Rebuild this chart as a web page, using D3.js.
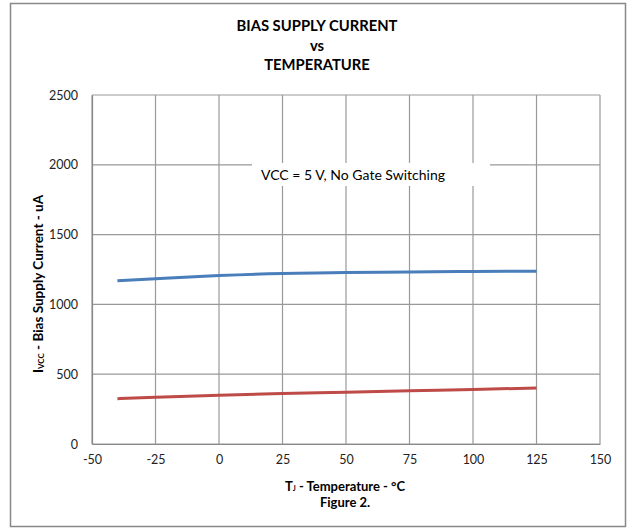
<!DOCTYPE html>
<html><head><meta charset="utf-8">
<script src="https://cdn.jsdelivr.net/npm/d3@7"></script>
<style>body{margin:0;background:#fff;} svg{display:block;font-family:Lato, "Liberation Sans", sans-serif;}</style>
</head><body>
<svg id="chart" width="627" height="529"></svg>
<script>
const temps = [-40, -25, 0, 25, 50, 75, 100, 125];
const blueSeries = [1169, 1184, 1207, 1222, 1228, 1232, 1236, 1238];
const redSeries = [325, 334, 350, 361, 371, 381, 390, 402];
const xTicks = [-50, -25, 0, 25, 50, 75, 100, 125, 150];
const yTicks = [0, 500, 1000, 1500, 2000, 2500];
const titleLines = ["BIAS SUPPLY CURRENT", "vs", "TEMPERATURE"];
const annotation = "VCC = 5 V, No Gate Switching";

const svg = d3.select("#chart");
const L = 92, R = 600, T = 95, B = 444;
const x = d3.scaleLinear().domain([-50, 150]).range([L, R]);
const y = d3.scaleLinear().domain([0, 2500]).range([B, T]);

svg.append("rect").attr("x", 10.5).attr("y", 3.5).attr("width", 615).attr("height", 523)
  .attr("fill", "#fff").attr("stroke", "#888").attr("stroke-width", 1.5);

// title
svg.selectAll("text.title").data(titleLines).enter().append("text")
  .attr("x", 317).attr("y", (d, i) => 31 + i * 19.5)
  .attr("text-anchor", "middle").attr("font-weight", "bold").attr("font-size", 14.8)
  .attr("fill", "#000").text(d => d);

// grid
const g = svg.append("g");
g.selectAll("line.vg").data(xTicks).enter().append("line")
  .attr("x1", d => x(d)).attr("x2", d => x(d)).attr("y1", T).attr("y2", B)
  .attr("stroke", "#999").attr("stroke-width", 1.2);
g.selectAll("line.hg").data(yTicks).enter().append("line")
  .attr("x1", L).attr("x2", R).attr("y1", d => y(d)).attr("y2", d => y(d))
  .attr("stroke", "#999").attr("stroke-width", 1.2);

// axes
const fmt = d => String(d);
const xAxis = d3.axisBottom(x).tickValues(xTicks).tickSize(0).tickPadding(11).tickFormat(fmt);
const yAxis = d3.axisLeft(y).tickValues(yTicks).tickSize(0).tickPadding(14).tickFormat(fmt);
const xa = svg.append("g").attr("transform", `translate(0,${B})`).call(xAxis);
const ya = svg.append("g").attr("transform", `translate(${L},0)`).call(yAxis);
[xa, ya].forEach(a => {
  a.select(".domain").attr("stroke", "#888").attr("stroke-width", 1.2);
  a.selectAll("text").attr("font-size", 12.5).attr("fill", "#222").attr("font-family", "Lato, sans-serif");
});

// annotation box
svg.append("rect").attr("x", 252).attr("y", 163).attr("width", 238).attr("height", 23).attr("fill", "#fff");
svg.append("text").attr("x", 353).attr("y", 180).attr("text-anchor", "middle")
  .attr("font-size", 14).attr("fill", "#000").text(annotation);

// lines
const line = d3.line().x((d, i) => x(temps[i])).y(d => y(d)).curve(d3.curveMonotoneX);
svg.append("path").datum(blueSeries).attr("d", line).attr("fill", "none")
  .attr("stroke", "#4A7EBB").attr("stroke-width", 3);
svg.append("path").datum(redSeries).attr("d", line).attr("fill", "none")
  .attr("stroke", "#BE4B48").attr("stroke-width", 3);

// axis titles
const xt = svg.append("text").attr("x", 345).attr("y", 491).attr("text-anchor", "middle")
  .attr("font-weight", "bold").attr("font-size", 13);
xt.append("tspan").text("T");
xt.append("tspan").attr("font-size", 7).text("J");
xt.append("tspan").text(" - Temperature - °C");
svg.append("text").attr("x", 345).attr("y", 507).attr("text-anchor", "middle")
  .attr("font-weight", "bold").attr("font-size", 13).text("Figure 2.");

const yt = svg.append("text").attr("transform", "translate(43,284) rotate(-90)")
  .attr("text-anchor", "middle").attr("font-weight", "bold").attr("font-size", 13.5);
yt.append("tspan").text("I");
yt.append("tspan").attr("font-size", 8).attr("dy", 1).text("VCC");
yt.append("tspan").attr("dy", -1).text(" - Bias Supply Current - uA");
</script>
</body></html>
